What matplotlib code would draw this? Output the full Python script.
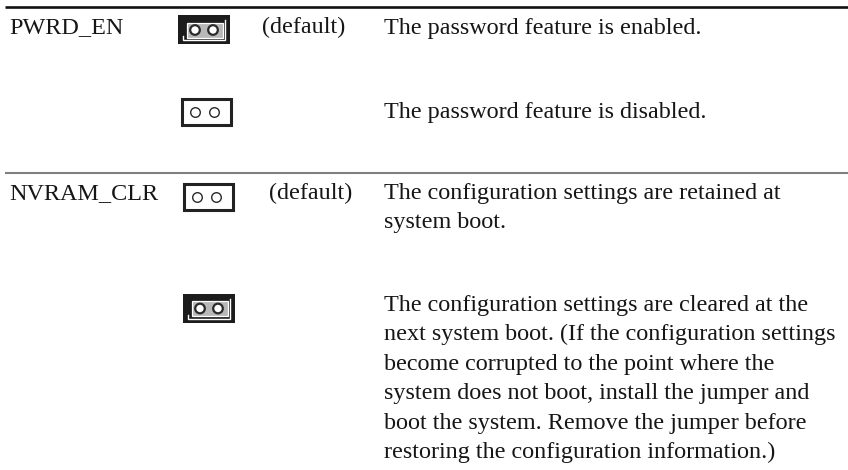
import matplotlib
matplotlib.use('Agg')
import matplotlib.pyplot as plt
from matplotlib.patches import Rectangle, Circle

plt.rcParams['font.family'] = ['Liberation Serif', 'DejaVu Serif']

# rows of the jumper table
jumper_names = ['PWRD_EN', 'NVRAM_CLR']
jumper_name_pos = [(9.5, 33.5), (9.5, 199)]
default_label = '(default)'
default_pos = [(262, 33.5), (269, 199)]

descriptions = [
    ['The password feature is enabled.'],
    ['The password feature is disabled.'],
    ['The configuration settings are retained at', 'system boot.'],
    ['The configuration settings are cleared at the',
     'next system boot. (If the configuration settings',
     'become corrupted to the point where the',
     'system does not boot, install the jumper and',
     'boot the system. Remove the jumper before',
     'restoring the configuration information.)'],
]
desc_y = [34, 118, 199, 311]
desc_x = 384
line_h = 29.4

# icon left, top, jumper on?
icons = [(178, 15, True), (180.5, 97.5, False), (182.5, 182.5, False), (183, 293.5, True)]
rule_y = [6.5, 173]
rule_colors = ['#111111', '#808080']
rule_w = [1.9, 1.5]

fig = plt.figure(figsize=(8.48, 4.7), dpi=100)
ax = fig.add_axes([0, 0, 1, 1])
ax.set_xlim(0, 848)
ax.set_ylim(470, 0)
ax.axis('off')

for y, c, w in zip(rule_y, rule_colors, rule_w):
    ax.plot([5, 848], [y, y], color=c, lw=w, solid_capstyle='butt')

fs = 17.4
txt = '#161616'
for name, (x, y) in zip(jumper_names, jumper_name_pos):
    ax.text(x, y, name, fontsize=fs, va='baseline', color=txt)
for x, y in default_pos:
    ax.text(x, y, default_label, fontsize=fs, va='baseline', color=txt)

for lines, y0 in zip(descriptions, desc_y):
    for i, line in enumerate(lines):
        ax.text(desc_x, y0 + i * line_h, line, fontsize=fs, va='baseline', color=txt)


def draw_icon(x, y, on):
    w, h = 51.5, 29
    if on:
        # jumper fitted: solid block, white L line, grey cap
        ax.add_patch(Rectangle((x, y), w, h, fc='#1c1c1c', ec='none'))
        ax.plot([x + 5, x + 5, x + 47, x + 47], [y + 21, y + 25, y + 25, y + 5],
                color='white', lw=1.0, solid_joinstyle='miter')
        ax.add_patch(Rectangle((x + 8.5, y + 7.5), 36, 15, fc='#b8b8b8', ec='white', lw=0.9))
        centers = (x + 17, x + 35)
    else:
        ax.add_patch(Rectangle((x + 1.5, y + 1.5), w - 3, h - 3, fc='white', ec='#222222', lw=2.2))
        centers = (x + 15, x + 34)
    for cx in centers:
        ring = 1.6 if on else 1.0
        ax.add_patch(Circle((cx, y + 15), 4.8, fc='white', ec='#2a2a2a', lw=ring))


for x, y, on in icons:
    draw_icon(x, y, on)

fig.savefig('out.png', dpi=100)
